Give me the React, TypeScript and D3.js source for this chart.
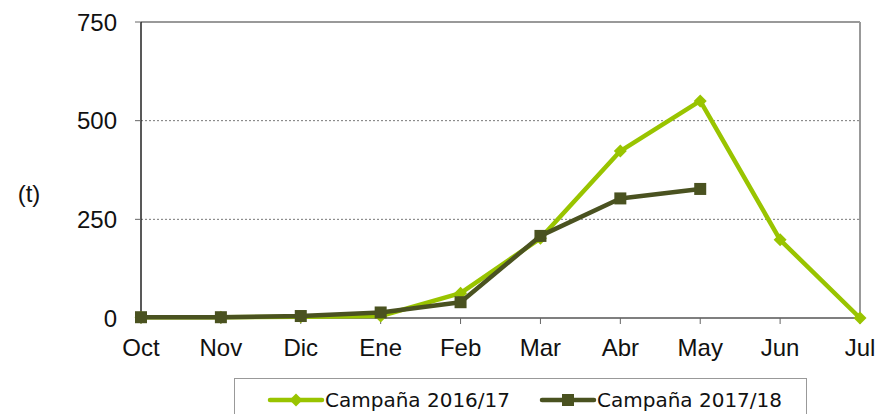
import React from 'react'
import * as d3 from 'd3'

const months = ['Oct', 'Nov', 'Dic', 'Ene', 'Feb', 'Mar', 'Abr', 'May', 'Jun', 'Jul']
const campaign1617 = [2, 2, 3, 5, 63, 202, 423, 550, 198, 0]
const campaign1718: (number | null)[] = [2, 2, 5, 14, 40, 208, 303, 327, null, null]
const yTicks = [0, 250, 500, 750]

const series = [
  { name: 'Campaña 2016/17', values: campaign1617, color: '#99c400', marker: 'diamond' },
  { name: 'Campaña 2017/18', values: campaign1718, color: '#4a5220', marker: 'square' },
]

const W = 879
const H = 414
const font = 'Arial, "Liberation Sans", sans-serif'

const App: React.FC = () => {
  const x = d3.scalePoint<string>().domain(months).range([141, 860])
  const y = d3.scaleLinear().domain([0, 750]).range([318, 22])

  const line = d3.line<number | null>()
    .defined(d => d !== null)
    .x((_, i) => x(months[i]) || 0)
    .y(d => y(d as number))

  const drawMarker = (kind: string, cx: number, cy: number, color: string, key: string) => {
    if (kind === 'square') {
      return <rect key={key} x={cx - 6} y={cy - 6} width={12} height={12} fill={color} />
    }
    const s = 6.5
    return <path key={key} d={`M${cx},${cy - s}L${cx + s},${cy}L${cx},${cy + s}L${cx - s},${cy}Z`} fill={color} />
  }

  return (
    <svg width={W} height={H} style={{ position: 'absolute', left: 0, top: 0, fontFamily: font }}>
      {/* plot frame */}
      <line x1={141} x2={860} y1={y(750)} y2={y(750)} stroke="#999" strokeWidth={2} />
      <line x1={860} x2={860} y1={y(750)} y2={y(0)} stroke="#999" strokeWidth={2} />

      {/* grid */}
      {yTicks.filter(t => t > 0 && t < 750).map(t => (
        <line key={t} x1={141} x2={860} y1={y(t)} y2={y(t)} stroke="#777" strokeWidth={1} strokeDasharray="2,2" />
      ))}

      {/* y axis */}
      <line x1={141} x2={141} y1={y(750)} y2={y(0)} stroke="#222" strokeWidth={1.5} />
      {yTicks.map(t => (
        <g key={t}>
          <line x1={135} x2={141} y1={y(t)} y2={y(t)} stroke="#666" />
          <text x={117} y={y(t)} dy="0.36em" textAnchor="end" fontSize={24} fill="#111">{t}</text>
        </g>
      ))}
      <text x={29} y={194} dy="0.35em" textAnchor="middle" fontSize={24} fill="#111">(t)</text>

      {/* x axis */}
      <line x1={141} x2={860} y1={y(0)} y2={y(0)} stroke="#555" strokeWidth={1.5} />
      {months.map(m => (
        <g key={m}>
          <line x1={x(m)} x2={x(m)} y1={y(0)} y2={y(0) + 6} stroke="#666" />
          <text x={x(m)} y={356} textAnchor="middle" fontSize={24} fill="#111">{m}</text>
        </g>
      ))}

      {/* series */}
      {series.map(s => (
        <g key={s.name}>
          <path d={line(s.values) || ''} fill="none" stroke={s.color} strokeWidth={4.5} strokeLinejoin="round" />
          {s.values.map((v, i) => v === null ? null :
            drawMarker(s.marker, x(months[i]) || 0, y(v), s.color, `${s.name}-${i}`))}
        </g>
      ))}

      {/* legend */}
      <rect x={234.5} y={378.5} width={572} height={50} fill="#fff" stroke="#999" />
      {series.map((s, i) => {
        const lx = i === 0 ? 270 : 542
        return (
          <g key={s.name}>
            <line x1={lx} x2={lx + 52} y1={400} y2={400} stroke={s.color} strokeWidth={4.5} strokeLinecap="round" />
            {drawMarker(s.marker, lx + 26, 400, s.color, `leg-${i}`)}
            <text x={lx + 55} y={400} dy="0.36em" fontSize={20} fill="#111"
              fontFamily='"DejaVu Sans", sans-serif'>{s.name}</text>
          </g>
        )
      })}
    </svg>
  )
}

export default App
